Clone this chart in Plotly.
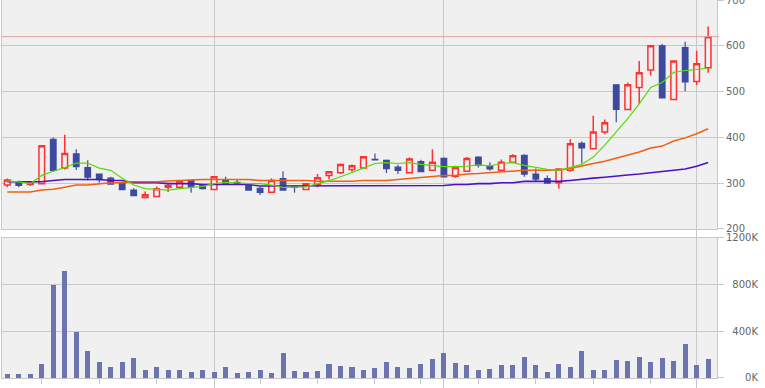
import plotly.graph_objects as go

# ---- data ----
idx = list(range(62))
open_ = [296,303,297,299,396,333,364,334,320,311,300,285,269,271,291,291,306,295,286,306,
         302,298,289,280,310,292,286,297,317,323,330,333,352,350,335,323,347,328,354,315,
         326,357,338,328,346,361,320,310,301,328,387,375,412,515,461,509,547,600,483,596,
         522,552]
close = [307,295,301,382,328,365,336,313,308,298,286,273,275,288,295,305,292,288,314,298,
         299,285,280,306,285,291,299,312,325,341,338,358,351,332,328,353,325,346,314,334,
         354,339,331,346,360,320,309,300,331,386,377,412,432,461,515,541,600,486,567,521,
         561,620]
high = [310,306,302,382,400,406,374,350,320,314,303,289,282,293,301,306,306,297,314,314,
        309,298,292,311,326,296,299,320,325,343,341,358,365,352,340,356,351,374,356,338,
        357,359,346,352,363,363,332,317,331,396,391,447,439,515,520,567,602,604,568,609,
        589,642]
low = [291,291,294,299,325,330,329,306,301,297,285,272,269,271,281,290,279,286,286,297,
       298,285,274,280,285,279,286,291,308,320,325,333,350,322,320,323,325,327,314,312,
       326,334,327,327,345,314,303,300,288,325,343,375,407,433,461,473,535,486,481,501,
       514,541]
ma_short = [305,303,299,317,326,334,344,344,333,328,311,296,288,287,285,288,291,293,299,302,
            301,299,299,296,291,291,292,299,305,314,323,333,343,345,343,345,341,338,336,336,
            337,340,338,343,345,339,335,330,328,335,341,357,383,412,441,473,509,520,542,546,
            548,551]
ma_mid = [281,281,281,285,287,291,296,296,298,301,301,303,303,303,305,306,308,308,308,308,
          308,308,306,306,306,306,306,304,304,304,304,306,306,306,308,310,312,315,317,317,
          320,321,323,325,327,328,328,328,328,332,338,343,348,355,361,368,377,381,392,399,
          408,419]
ma_long = [303,303,303,303,306,308,308,308,308,306,306,301,301,301,299,299,299,297,297,297,
           297,297,294,294,294,294,294,294,294,294,294,294,294,294,294,295,295,295,295,297,
           297,299,299,301,301,304,304,304,304,306,309,311,313,316,318,320,323,325,328,331,
           337,345]
volume = [31,31,31,117,794,914,391,229,134,91,134,169,66,91,66,66,49,66,49,91,
          40,49,66,40,211,57,49,57,117,100,91,66,83,134,91,83,117,160,211,126,
          109,66,74,109,109,177,109,49,117,91,229,66,66,151,143,177,134,169,143,289,
          109,160]
volume = [v * 1000 for v in volume]

month_ticks = [18, 38, 60]
week_ticks = [3, 8, 13, 22, 27, 32, 36, 41, 46, 51, 56]
price_ticks = [200, 300, 400, 500, 600, 700]
vol_ticks = [0, 400000, 800000, 1200000]
vol_labels = ["\u2007\u2007\u20070K", "\u2007400K", "\u2007800K", "1200K"]

RED = "#ff3030"
BLUE = "#3d4a9e"
VOLC = "#6c74b0"
BG = "#f0f0f0"
GRID = "#c8c8c8"

fig = go.Figure()
fig.add_trace(go.Candlestick(
    x=idx, open=open_, high=high, low=low, close=close,
    increasing=dict(line=dict(color=RED, width=1.5), fillcolor=BG),
    decreasing=dict(line=dict(color=BLUE, width=1.2), fillcolor=BLUE),
    xaxis="x", yaxis="y", hoverinfo="skip", showlegend=False))
fig.add_trace(go.Scatter(x=idx, y=ma_long, mode="lines", line=dict(color="#5010c8", width=1.6),
                         xaxis="x", yaxis="y", hoverinfo="skip", showlegend=False))
fig.add_trace(go.Scatter(x=idx, y=ma_mid, mode="lines", line=dict(color="#f06010", width=1.5),
                         xaxis="x", yaxis="y", hoverinfo="skip", showlegend=False))
fig.add_trace(go.Scatter(x=idx, y=ma_short, mode="lines", line=dict(color="#55dd00", width=1.2),
                         xaxis="x", yaxis="y", hoverinfo="skip", showlegend=False))
fig.add_trace(go.Bar(x=idx, y=volume, width=0.44, marker=dict(color=VOLC, line=dict(width=0)),
                     xaxis="x2", yaxis="y2", hoverinfo="skip", showlegend=False))

xr = [-0.461, 61.77]
common_x = dict(range=xr, showline=True, mirror=True, linecolor=GRID, linewidth=1,
                showgrid=True, gridcolor=GRID, gridwidth=1, zeroline=False,
                tickmode="array", tickvals=month_ticks, showticklabels=False,
                ticks="outside", tickcolor=GRID, fixedrange=True, automargin=False)
common_y = dict(side="right", showline=True, mirror=True, linecolor=GRID, linewidth=1,
                showgrid=True, gridcolor=GRID, gridwidth=1, zeroline=False,
                ticks="outside", ticklen=6, tickcolor=GRID, fixedrange=True,
                ticklabeloverflow="allow", automargin=False,
                tickfont=dict(family="DejaVu Sans", size=10, color="#666666"))

fig.update_layout(
    width=765, height=388,
    margin=dict(l=2, r=48, t=0, b=10, autoexpand=False),
    paper_bgcolor="white", plot_bgcolor=BG,
    showlegend=False,
    xaxis=dict(**common_x, domain=[0, 1], anchor="y", ticklen=9,
               rangeslider=dict(visible=False)),
    xaxis2=dict(**common_x, domain=[0, 1], anchor="y2", ticklen=10, matches="x",
                minor=dict(tickmode="array", tickvals=week_ticks, ticks="outside",
                           ticklen=5, tickcolor=GRID, showgrid=False)),
    yaxis=dict(**common_y, domain=[0.3942, 1], anchor="x", range=[200, 700],
               tickmode="array", tickvals=price_ticks,
               ticktext=[str(v) for v in price_ticks]),
    yaxis2=dict(**common_y, domain=[0, 0.3704], anchor="x2", range=[0, 1200000],
                tickmode="array", tickvals=vol_ticks, ticktext=vol_labels),
    bargap=0,
)

fig.add_shape(type="line", xref="paper", yref="y", x0=0, x1=1.003,
              y0=close[-1], y1=close[-1], line=dict(color="#e0a0a0", width=1))

fig.write_html("out.html")
